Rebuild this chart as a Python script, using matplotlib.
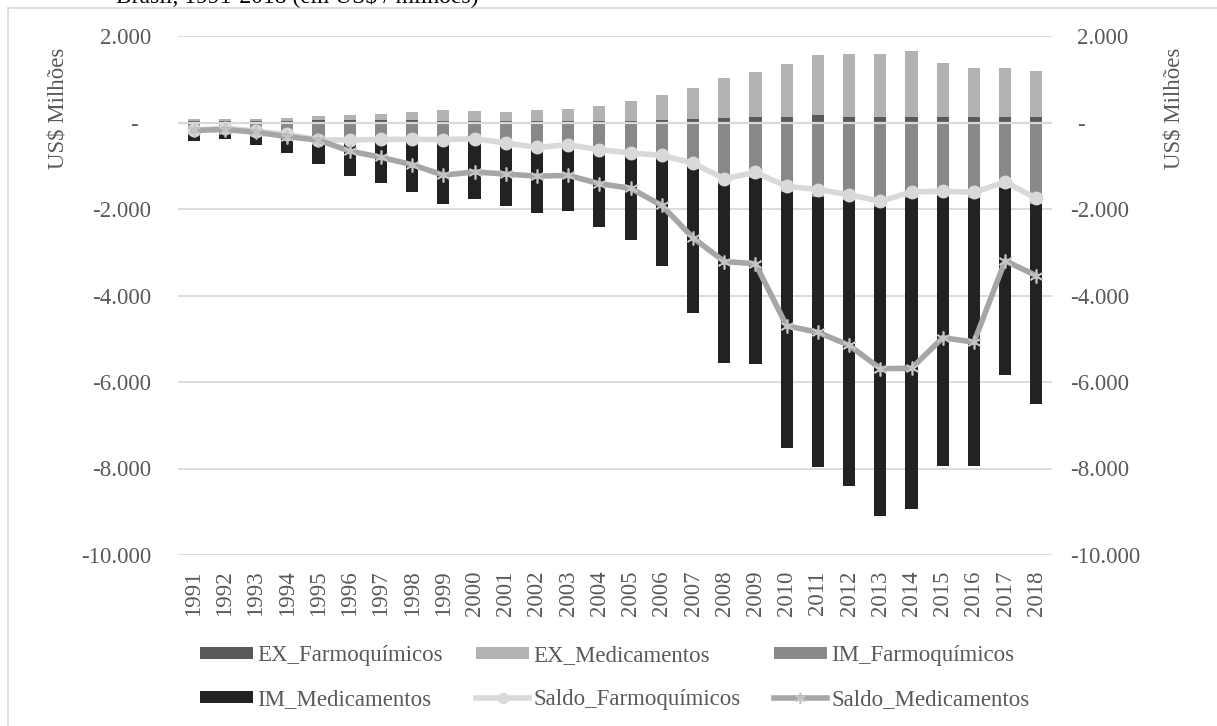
import matplotlib
matplotlib.use("Agg")
import matplotlib.pyplot as plt
import matplotlib.transforms as mtransforms
import numpy as np

plt.rcParams['font.family'] = ['Liberation Serif', 'DejaVu Serif']

# Balança comercial do setor farmacêutico (US$ milhões)
years = [str(y) for y in range(1991, 2019)]

ex_farmoquimicos = [40, 45, 40, 45, 50, 50, 50, 55, 45, 40, 40, 38, 38, 40,
                    45, 62, 85, 108, 131, 131, 169, 131, 131, 131, 116, 131,
                    131, 131]
ex_medicamentos = [37, 47, 45, 63, 89, 119, 158, 191, 234, 216, 213, 242, 267,
                   335, 445, 585, 710, 932, 1034, 1219, 1386, 1454, 1454, 1514,
                   1259, 1127, 1134, 1070]
im_farmoquimicos = [-220, -175, -240, -320, -450, -455, -440, -445, -440, -415,
                    -515, -613, -551, -670, -750, -822, -1025, -1408, -1284,
                    -1607, -1719, -1799, -1953, -1736, -1706, -1745, -1506,
                    -1886]
im_medicamentos = [-219, -210, -269, -389, -498, -778, -963, -1166, -1451,
                   -1360, -1405, -1482, -1489, -1750, -1965, -2503, -3377,
                   -4147, -4299, -5921, -6236, -6606, -7143, -7199, -6234,
                   -6205, -4329, -4614]
saldo_farmoquimicos = [-180, -130, -200, -275, -400, -405, -390, -390, -395,
                       -375, -475, -575, -513, -630, -705, -760, -940, -1300,
                       -1153, -1476, -1550, -1668, -1822, -1605, -1590, -1614,
                       -1375, -1755]
saldo_medicamentos = [-182, -163, -224, -326, -409, -659, -805, -975, -1217,
                      -1144, -1192, -1240, -1222, -1415, -1520, -1918, -2667,
                      -3215, -3265, -4702, -4850, -5152, -5689, -5685, -4975,
                      -5078, -3195, -3544]

y_ticks = [2000, 0, -2000, -4000, -6000, -8000, -10000]
y_tick_labels = ['2.000', '-', '-2.000', '-4.000', '-6.000', '-8.000', '-10.000']

TXT = '#595959'
GRID = '#d9d9d9'
C_EXF = '#595959'
C_EXM = '#b2b2b2'
C_IMF = '#888888'
C_IMM = '#222222'
C_SF = '#d9d9d9'
C_SM = '#a6a6a6'
FS = 16.5

W, H = 1217, 726
fig = plt.figure(figsize=(W / 100, H / 100), dpi=100)

# chart frame
fig.add_artist(plt.Line2D([8 / W, 8 / W], [0, 1 - 8 / H], color=GRID, lw=1.2))
fig.add_artist(plt.Line2D([8 / W, 1], [1 - 8 / H, 1 - 8 / H], color=GRID, lw=1.2))

# caption line above the chart frame (mostly outside the canvas)
fig.text(478 / W, 1 - 2 / H, 'Brasil, 1991-2018 (em US$ / milhões)',
         ha='right', va='baseline', fontsize=17, color='#000000')

ax = fig.add_axes([178 / W, 1 - 555 / H, (1052 - 178) / W, (555 - 36) / H])
x = np.arange(len(years))
bw = 0.39

b1 = ax.bar(x, ex_farmoquimicos, bw, color=C_EXF, zorder=2)
b2 = ax.bar(x, ex_medicamentos, bw, bottom=ex_farmoquimicos, color=C_EXM, zorder=2)
b3 = ax.bar(x, im_farmoquimicos, bw, color=C_IMF, zorder=2)
b4 = ax.bar(x, im_medicamentos, bw, bottom=im_farmoquimicos, color=C_IMM, zorder=2)
ax.axhline(0, color=GRID, lw=1.6, zorder=2.5)

l1, = ax.plot(x, saldo_farmoquimicos, color=C_SF, lw=4, marker='o', ms=9,
              mfc=C_SF, mec=C_SF, zorder=3)
l2, = ax.plot(x, saldo_medicamentos, color=C_SM, lw=4, marker=(6, 2, 0), ms=10,
              mec='#c4c4c4', mew=1.2, zorder=4)

ax.set_xlim(-0.5, len(years) - 0.5)
ax.set_ylim(-10000, 2000)
ax.set_yticks(y_ticks)
ax.set_yticklabels(y_tick_labels)
ax.yaxis.grid(True, color=GRID, lw=1.3, zorder=0)
ax.set_axisbelow(True)
for s in ax.spines.values():
    s.set_visible(False)
ax.tick_params(axis='y', length=0, pad=19.5, labelsize=FS, labelcolor=TXT)
ax.set_xticks(x)
ax.set_xticklabels(years, rotation=90)
ax.tick_params(axis='x', length=0, pad=11, labelsize=FS, labelcolor=TXT)

# zero label narrower padding (accounting format)
for lab in ax.get_yticklabels():
    if lab.get_text() == '-':
        lab.set_transform(lab.get_transform() +
                          mtransforms.ScaledTranslation(-13 / 100, 0, fig.dpi_scale_trans))

ax2 = ax.twinx()
ax2.set_ylim(ax.get_ylim())
ax2.set_yticks(y_ticks)
ax2.set_yticklabels(y_tick_labels)
for s in ax2.spines.values():
    s.set_visible(False)
ax2.tick_params(axis='y', length=0, pad=13, labelsize=FS, labelcolor=TXT)
for lab in ax2.get_yticklabels():
    if not lab.get_text().startswith('-') or lab.get_text() == '-':
        lab.set_transform(lab.get_transform() +
                          mtransforms.ScaledTranslation(7 / 100, 0, fig.dpi_scale_trans))

fig.text(58 / W, 1 - 108 / H, 'US$ Milhões', rotation=90, ha='center',
         va='center', fontsize=FS, color=TXT)
fig.text(1174 / W, 1 - 108 / H, 'US$ Milhões', rotation=90, ha='center',
         va='center', fontsize=FS, color=TXT)

handles = [b1, b4, b2, l1, b3, l2]
labels = ['EX_Farmoquímicos', 'IM_Medicamentos', 'EX_Medicamentos',
          'Saldo_Farmoquímicos', 'IM_Farmoquímicos', 'Saldo_Medicamentos']
leg = fig.legend(handles, labels, ncol=3, loc='upper left',
                 bbox_to_anchor=(200 / W, 1 - 645 / H), frameon=False,
                 fontsize=FS, handlelength=2.3, handleheight=0.45,
                 handletextpad=0.2, columnspacing=1.45, labelspacing=1.0,
                 borderpad=0, borderaxespad=0, numpoints=1, markerscale=0.8)
for t in leg.get_texts():
    t.set_color(TXT)

fig.savefig('out.png', dpi=100)
